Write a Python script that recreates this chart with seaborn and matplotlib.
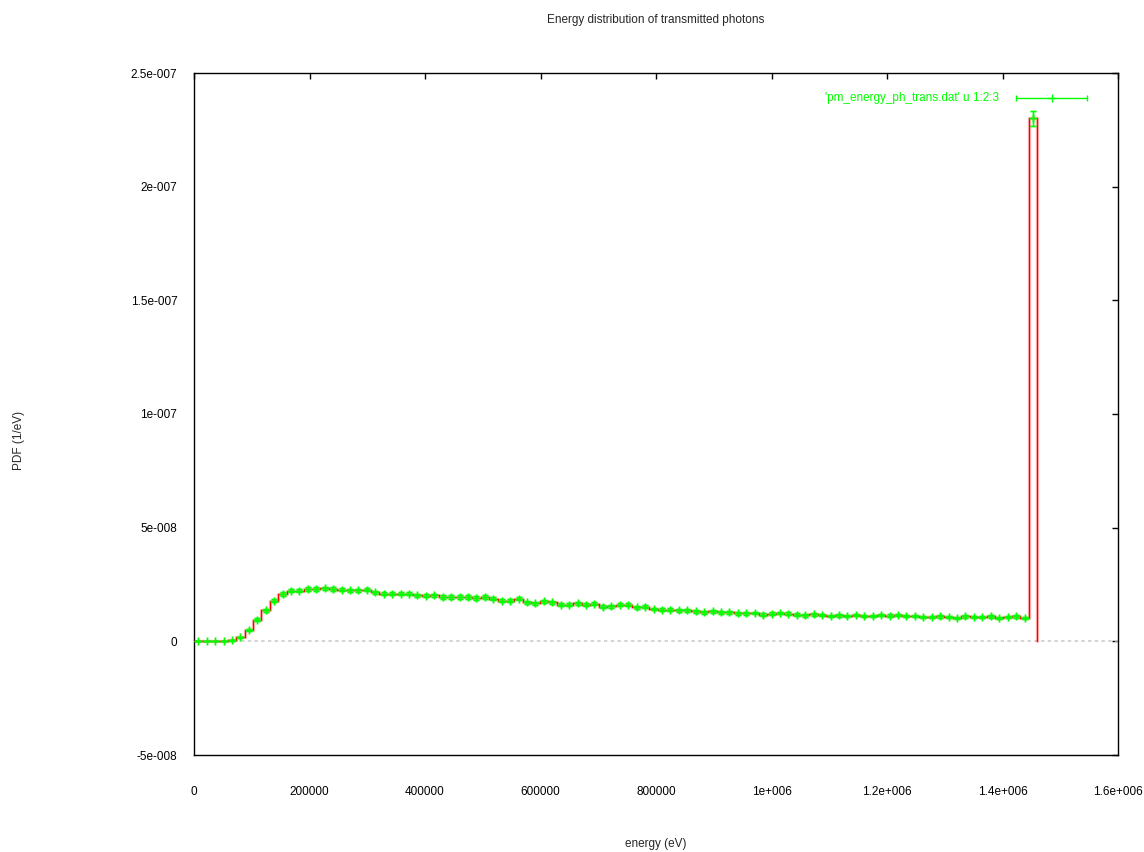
import numpy as np
import pandas as pd
import matplotlib
matplotlib.use("Agg")
import matplotlib.pyplot as plt
import seaborn as sns

# Histogram of transmitted photon energies: 100 bins of 14.6 keV up to 1.46 MeV
bin_width = 14600.0
n_bins = 100

# PDF per bin (units of 1e-8 / eV)
pdf_e8 = [
    0.00, 0.00, 0.00, 0.00, 0.05, 0.17, 0.49, 0.95, 1.37, 1.78,
    2.08, 2.22, 2.22, 2.30, 2.30, 2.34, 2.30, 2.27, 2.25, 2.25,
    2.27, 2.15, 2.10, 2.10, 2.10, 2.10, 2.03, 2.00, 2.03, 1.95,
    1.95, 1.95, 1.95, 1.91, 1.95, 1.88, 1.78, 1.78, 1.88, 1.71,
    1.68, 1.77, 1.71, 1.62, 1.61, 1.68, 1.62, 1.66, 1.53, 1.55,
    1.61, 1.61, 1.49, 1.53, 1.42, 1.39, 1.39, 1.37, 1.37, 1.32,
    1.28, 1.32, 1.28, 1.28, 1.23, 1.23, 1.25, 1.18, 1.22, 1.25,
    1.22, 1.17, 1.14, 1.19, 1.16, 1.11, 1.14, 1.11, 1.16, 1.11,
    1.11, 1.16, 1.13, 1.16, 1.11, 1.11, 1.07, 1.07, 1.10, 1.07,
    1.03, 1.10, 1.07, 1.07, 1.10, 1.03, 1.07, 1.10, 1.03, 23.00,
]

# Statistical error per bin (units of 1e-8 / eV)
err_e8 = [
    0.00, 0.00, 0.00, 0.00, 0.02, 0.04, 0.05, 0.06, 0.07, 0.07,
    0.07, 0.07, 0.07, 0.07, 0.07, 0.07, 0.07, 0.07, 0.07, 0.07,
    0.07, 0.07, 0.07, 0.07, 0.07, 0.07, 0.07, 0.07, 0.07, 0.07,
    0.07, 0.07, 0.07, 0.07, 0.07, 0.07, 0.07, 0.07, 0.07, 0.07,
    0.07, 0.07, 0.07, 0.07, 0.07, 0.07, 0.07, 0.07, 0.07, 0.07,
    0.07, 0.07, 0.07, 0.07, 0.06, 0.06, 0.06, 0.06, 0.06, 0.06,
    0.06, 0.06, 0.06, 0.06, 0.06, 0.06, 0.06, 0.06, 0.06, 0.06,
    0.06, 0.06, 0.06, 0.06, 0.06, 0.06, 0.06, 0.06, 0.06, 0.06,
    0.06, 0.06, 0.06, 0.06, 0.06, 0.06, 0.06, 0.06, 0.06, 0.06,
    0.06, 0.06, 0.06, 0.06, 0.06, 0.06, 0.06, 0.06, 0.06, 0.35,
]

x_ticks = [0, 200000, 400000, 600000, 800000, 1000000, 1200000, 1400000, 1600000]
x_tick_labels = ["0", "200000", "400000", "600000", "800000",
                 "1e+006", "1.2e+006", "1.4e+006", "1.6e+006"]
y_ticks = [-5e-8, 0, 5e-8, 1e-7, 1.5e-7, 2e-7, 2.5e-7]
y_tick_labels = ["-5e-008", "0", "5e-008", "1e-007", "1.5e-007", "2e-007", "2.5e-007"]

title = "Energy distribution of transmitted photons"
x_label = "energy (eV)"
y_label = "PDF (1/eV)"
series_label = "'pm_energy_ph_trans.dat' u 1:2:3"

pdf = np.array(pdf_e8) * 1e-8
err = np.array(err_e8) * 1e-8
edges = np.arange(n_bins + 1) * bin_width
centers = edges[:-1] + bin_width / 2
points = pd.DataFrame({"energy": centers, "pdf": pdf, "err": err})

# step outline: rises from the baseline at the first edge, drops back at the last
steps = pd.DataFrame({
    "energy": np.concatenate([[edges[0]], edges, [edges[-1]]]),
    "pdf": np.concatenate([[0.0], pdf, [pdf[-1], 0.0]]),
})

sns.set_style("white")
plt.rcParams["font.family"] = ["Liberation Sans", "DejaVu Sans"]
plt.rcParams["font.size"] = 8.5

RED = "#ff0000"
GREEN = "#00ff00"

fig = plt.figure(figsize=(11.44, 8.52), dpi=100)
ax = fig.add_axes([194 / 1144, 1 - 755 / 852, 924 / 1144, 682 / 852])

# dashed zero axis
ax.axhline(0, color="#c8c8c8", lw=1.1, ls=(0, (2.2, 2.2)), zorder=1)

# histogram steps (soft halo underneath, crisp line on top)
sns.lineplot(data=steps, x="energy", y="pdf", sort=False, estimator=None,
             drawstyle="steps-post", color=RED, lw=2.4, alpha=0.28, ax=ax,
             zorder=2)
sns.lineplot(data=steps, x="energy", y="pdf", sort=False, estimator=None,
             drawstyle="steps-post", color=RED, lw=0.9, ax=ax, zorder=3)

# error bars with point markers
ax.errorbar(points["energy"], points["pdf"], yerr=points["err"], fmt="+",
            color=GREEN, ecolor=GREEN, elinewidth=2.2, capsize=2.5,
            capthick=2.2, markersize=5.5, markeredgewidth=2.2, alpha=0.2,
            zorder=4)
ax.errorbar(points["energy"], points["pdf"], yerr=points["err"], fmt="+",
            color=GREEN, ecolor=GREEN, elinewidth=1.0, capsize=2.5,
            capthick=1.0, markersize=5.5, markeredgewidth=1.0, zorder=5)

# key entry
key_y = (755 - 98) / 682
kx0, kx1 = (1016 - 194) / 924, (1087 - 194) / 924
ax.plot([kx0, kx1], [key_y, key_y], color=GREEN, lw=1.0,
        transform=ax.transAxes, clip_on=False, zorder=6)
ax.plot([kx0, kx1], [key_y, key_y], ls="none", marker="|", ms=5, mew=1.0,
        color=GREEN, transform=ax.transAxes, clip_on=False, zorder=6)
ax.plot([(kx0 + kx1) / 2], [key_y], ls="none", marker="+", ms=5.5, mew=1.0,
        color=GREEN, transform=ax.transAxes, clip_on=False, zorder=6)
ax.text((999 - 194) / 924, key_y, series_label, color=GREEN, ha="right",
        va="center", transform=ax.transAxes)

ax.set_xlim(0, 1.6e6)
ax.set_ylim(-5e-8, 2.5e-7)
ax.set_xticks(x_ticks)
ax.set_xticklabels(x_tick_labels)
ax.set_yticks(y_ticks)
ax.set_yticklabels(y_tick_labels)
ax.set_xlabel("")
ax.set_ylabel("")
ax.tick_params(direction="in", length=4.5, width=1, colors="black",
               top=True, right=True, labelsize=8.5)
ax.tick_params(axis="x", pad=22.5)
ax.tick_params(axis="y", pad=12)
for sp in ax.spines.values():
    sp.set_visible(True)
    sp.set_color("black")
    sp.set_linewidth(1.0)

fig.text(656 / 1144, 1 - 20 / 852, title, ha="center", va="center", fontsize=8.5)
fig.text(656 / 1144, 1 - 844 / 852, x_label, ha="center", va="center", fontsize=8.5)
fig.text(19 / 1144, 1 - 440 / 852, y_label, ha="center", va="center",
         rotation=90, fontsize=8.5)

fig.savefig("out.png", dpi=100, facecolor="white")
